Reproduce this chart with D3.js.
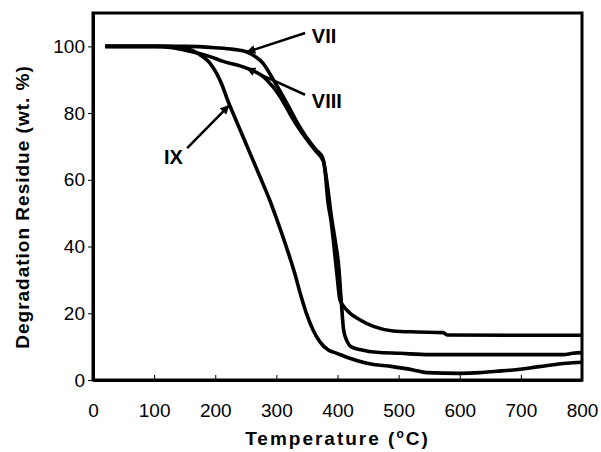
<!DOCTYPE html>
<html><head><meta charset="utf-8">
<script src="https://cdn.jsdelivr.net/npm/d3@7"></script>
<style>
html,body{margin:0;padding:0;background:#fff;}
svg{display:block;}
text{font-family:"Liberation Sans",Arial,sans-serif;fill:#000;}
</style></head>
<body>
<svg id="chart" width="601" height="452"></svg>
<script>
// ---- data ----
const xTicks = [0,100,200,300,400,500,600,700,800];
const yTicks = [0,20,40,60,80,100];

const tempVII = [20,100,150,200,230,252,265,278,295,317,333,350,365,376,380,384,390,396,400,404,415,437,460,491,530,573,580,700,800];
const wVII    = [100,100,100,99.6,99.1,98.3,97,95,90,83,77.5,72.5,69,66.5,62,54,47,37,30,24,21,18,16,14.7,14.4,14.2,13.5,13.4,13.4];

const tempVIII = [20,100,130,159,190,213,251,278,284,306,320,333,350,365,377,383,390,396,402,406,410,416,422,440,464,502,550,700,769,785,800];
const wVIII    = [100,100,99.6,98.5,97,95.5,93.5,91,90,85,80.5,76.5,72,68.5,65.5,59,49,42,34,24,15,11.5,10,9,8.3,8,7.6,7.6,7.6,8,8.2];

const tempIX = [20,120,150,175,190,202,211,219,236,251,273,290,300,317,330,339,350,360,371,385,399,420,448,490,524,546,600,633,660,687,730,775,800];
const wIX    = [100,100,99.5,97.5,95.3,92,88.5,84.5,77,70.5,61,53.5,48.5,39.5,32,26,19.5,15,11.5,9,8,6.5,5,4,3,2.2,2,2.2,2.6,3,4,5,5.3];

const seriesNames = ["VII","VIII","IX"];
// annotation: arrow tip (T,W), arrow tail (T,W), label anchor (T,W)
const annTip  = [[252,98.3],[252,93.4],[222,82.2]];
const annTail = [[347,104],[347,85.5],[154,69.5]];
const annLab  = [[358,103.2],[358,83.6],[147,66.8]];

// ---- layout ----
const svg = d3.select("#chart");
const x = d3.scaleLinear().domain([0,800]).range([93,582]);
const y = d3.scaleLinear().domain([0,110]).range([380,13]);

// frame
svg.append("rect").attr("x",x(0)).attr("y",y(110)).attr("width",x(800)-x(0)).attr("height",y(0)-y(110))
  .attr("fill","none").attr("stroke","#000").attr("stroke-width",3);

// axes
const gx = svg.append("g").attr("transform",`translate(0,${y(0)})`)
  .call(d3.axisBottom(x).tickValues(xTicks).tickSize(-5).tickSizeOuter(0).tickPadding(24));
const gy = svg.append("g").attr("transform",`translate(${x(0)},0)`)
  .call(d3.axisLeft(y).tickValues(yTicks).tickSize(5).tickSizeOuter(0).tickPadding(3));
[gx,gy].forEach(g=>{
  g.select(".domain").attr("stroke","#000").attr("stroke-width",3);
  g.selectAll(".tick line").attr("stroke","#000").attr("stroke-width",1);
  g.selectAll(".tick text").attr("font-family","Liberation Sans, Arial, sans-serif").attr("font-size",19).attr("fill","#000");
});

// curves
const line = d3.line().x(d=>x(d[0])).y(d=>y(d[1])).curve(d3.curveMonotoneX);
const allSeries = [
  d3.zip(tempVII,wVII),
  d3.zip(tempVIII,wVIII),
  d3.zip(tempIX,wIX)
];
allSeries.forEach(s=>{
  svg.append("path").datum(s).attr("d",line).attr("fill","none")
    .attr("stroke","#000").attr("stroke-width",3.6).attr("stroke-linejoin","round");
});

// arrow marker
svg.append("defs").append("marker").attr("id","ah").attr("viewBox","0 0 10 10")
  .attr("refX",9).attr("refY",5).attr("markerWidth",11).attr("markerHeight",9)
  .attr("markerUnits","userSpaceOnUse").attr("orient","auto")
  .append("path").attr("d","M0,0L10,5L0,10z").attr("fill","#000");

seriesNames.forEach((n,i)=>{
  svg.append("line")
    .attr("x1",x(annTail[i][0])).attr("y1",y(annTail[i][1]))
    .attr("x2",x(annTip[i][0])).attr("y2",y(annTip[i][1]))
    .attr("stroke","#000").attr("stroke-width",2.5).attr("marker-end","url(#ah)");
  svg.append("text").attr("x",x(annLab[i][0])).attr("y",y(annLab[i][1]))
    .attr("dy","0.36em").attr("font-size",20).attr("font-weight","bold")
    .attr("text-anchor", i===2 ? "end" : "start").text(n);
});

// axis titles
const xt = svg.append("text").attr("x",(x(0)+x(800))/2).attr("y",445)
  .attr("text-anchor","middle").attr("font-size",19).attr("font-weight","bold").attr("letter-spacing","2px");
xt.append("tspan").text("Temperature (");
xt.append("tspan").attr("font-size",12).attr("dy",-7).text("o");
xt.append("tspan").attr("dy",7).text("C)");

svg.append("text").attr("transform","translate(29,207) rotate(-90)")
  .attr("text-anchor","middle").attr("font-size",19).attr("font-weight","bold").attr("letter-spacing","1px")
  .text("Degradation Residue (wt. %)");
</script>
</body></html>
